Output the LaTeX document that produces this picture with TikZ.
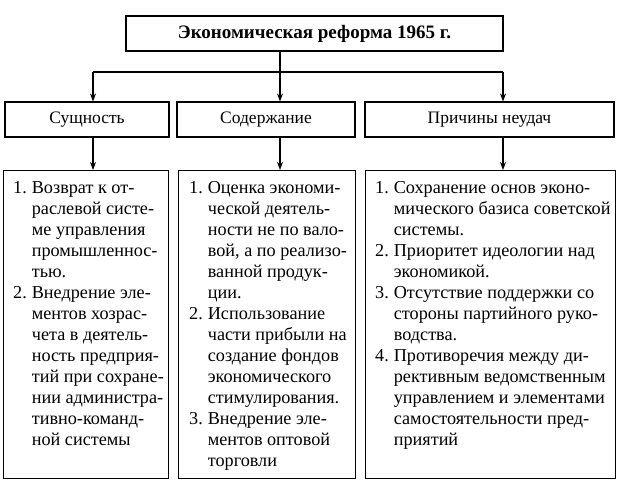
\documentclass[tikz,border=0pt]{standalone}
\usepackage{fontspec}
\setmainfont{Liberation Serif}
\usetikzlibrary{arrows.meta,positioning,calc}
\tikzset{
    box/.style={
        draw,
        line width=1.1pt,
        rectangle,
        inner sep=0pt,
    },
    head/.style={
        box,
        minimum height=35pt,
        font=\fontsize{17.5}{21}\selectfont,
    },
    listbox/.style={
        box,
        anchor=north west,
        minimum height=308pt,
    },
    listtext/.style={
        anchor=north west,
        inner sep=0pt,
        align=left,
        font=\fontsize{18.2}{21}\selectfont,
    },
    down/.style={
        line width=1.1pt,
        -{Stealth[length=8pt,width=6pt]},
    },
    link/.style={
        line width=1.1pt,
    },
}
\newcommand{\itemrow}[2]{#1. & #2}
\newenvironment{itemlines}{\begin{tabular}{@{}l@{\hspace{5pt}}l@{}}}{\end{tabular}}

\begin{document}
\begin{tikzpicture}[x=1pt,y=-1pt]
    \useasboundingbox (0,0) rectangle (618,486);

    % Title
    \node[box, minimum width=377pt, minimum height=35pt,
      font=\fontsize{19}{21}\selectfont\bfseries] (reform) at (314.5, 33.5)
      {Экономическая реформа 1965 г.};

    % Second row
    \node[head, minimum width=164pt] (essence) at (87, 119.5) {Сущность};
    \node[head, minimum width=178pt] (content) at (266, 119.5) {Содержание};
    \node[head, minimum width=249pt] (reasons) at (489.5, 119.5) {Причины неудач};

    % Branching points
    \coordinate (split) at (280, 72);
    \coordinate (splitL) at (93, 72);
    \coordinate (splitR) at (503, 72);

    \draw[link] (reform.south -| split) -- (split);
    \draw[link] (splitL) -- (splitR);
    \draw[down] (splitL) -- (splitL |- essence.north);
    \draw[down] (split) -- (split |- content.north);
    \draw[down] (splitR) -- (splitR |- reasons.north);

    % Lists
    \node[listbox, minimum width=165pt] (essencelist) at (3, 170) {};
    \node[listbox, minimum width=177pt] (contentlist) at (178, 170) {};
    \node[listbox, minimum width=250pt] (reasonslist) at (365, 170) {};

    \draw[down] (splitL |- essence.south) -- (splitL |- essencelist.north);
    \draw[down] (split |- content.south) -- (split |- contentlist.north);
    \draw[down] (splitR |- reasons.south) -- (splitR |- reasonslist.north);

    \node[listtext] (essencetext) at ($(essencelist.north west) + (10, 8.5)$) {%
      \begin{itemlines}
        \itemrow{1}{Возврат к от-}\\
        & раслевой систе-\\
        & ме управления\\
        & промышленнос-\\
        & тью.\\
        \itemrow{2}{Внедрение эле-}\\
        & ментов хозрас-\\
        & чета в деятель-\\
        & ность предприя-\\
        & тий при сохране-\\
        & нии администра-\\
        & тивно-команд-\\
        & ной системы
      \end{itemlines}};
    \node[listtext] (contenttext) at ($(contentlist.north west) + (11, 8.5)$) {%
      \begin{itemlines}
        \itemrow{1}{Оценка экономи-}\\
        & ческой деятель-\\
        & ности не по вало-\\
        & вой, а по реализо-\\
        & ванной продук-\\
        & ции.\\
        \itemrow{2}{Использование}\\
        & части прибыли на\\
        & создание фондов\\
        & экономического\\
        & стимулирования.\\
        \itemrow{3}{Внедрение эле-}\\
        & ментов оптовой\\
        & торговли
      \end{itemlines}};
    \node[listtext] (reasonstext) at ($(reasonslist.north west) + (10, 8.5)$) {%
      \begin{itemlines}
        \itemrow{1}{Сохранение основ эконо-}\\
        & мического базиса советской\\
        & системы.\\
        \itemrow{2}{Приоритет идеологии над}\\
        & экономикой.\\
        \itemrow{3}{Отсутствие поддержки со}\\
        & стороны партийного руко-\\
        & водства.\\
        \itemrow{4}{Противоречия между ди-}\\
        & рективным ведомственным\\
        & управлением и элементами\\
        & самостоятельности пред-\\
        & приятий
      \end{itemlines}};
\end{tikzpicture}
\end{document}
